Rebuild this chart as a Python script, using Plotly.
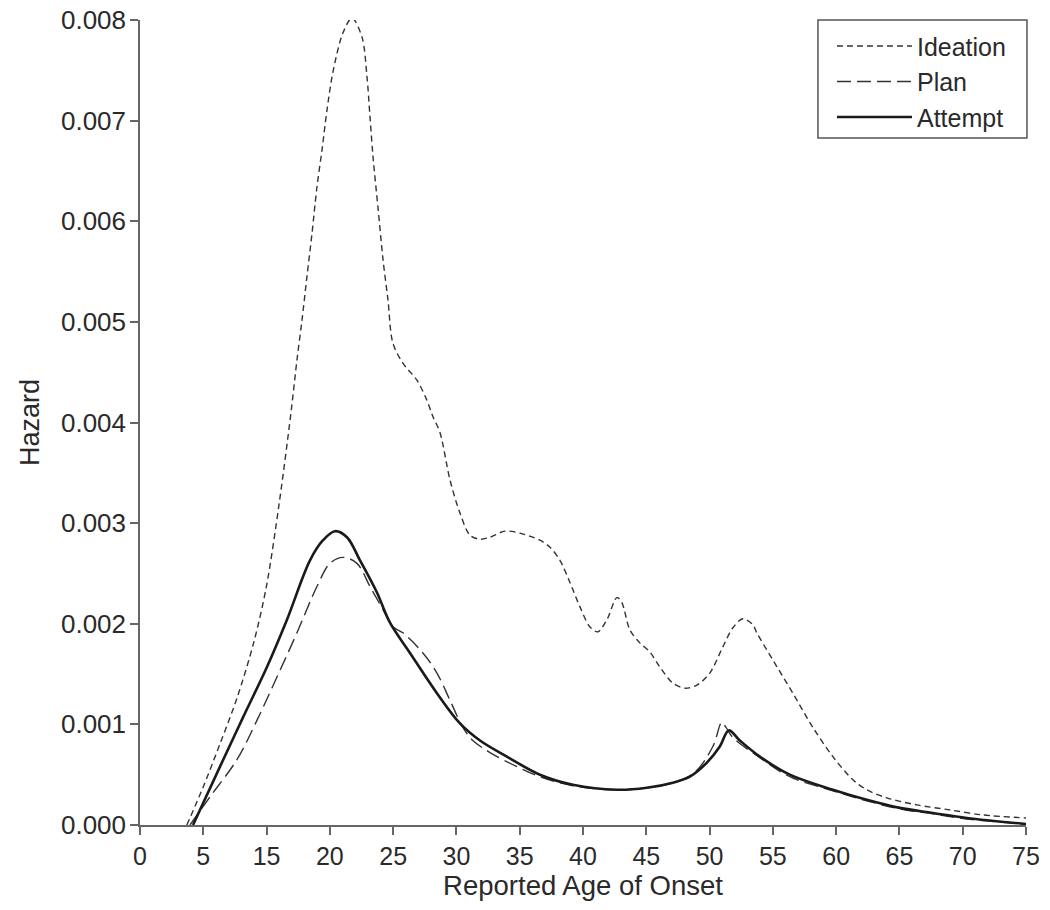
import plotly.graph_objects as go

# Reported age of onset (years) and hazard values (x 0.001)
ideation_age = [8.7, 10.0, 11.3, 12.66, 14.0, 15.0, 16.0, 16.93, 17.4, 17.8, 18.19, 18.59, 18.98,
                19.38, 19.78, 20.24, 21.03, 21.75, 22.54, 22.93, 23.17, 23.41, 23.8, 24.2,
                24.59, 24.98, 25.77, 26.88, 27.67, 28.14, 28.7, 29.49, 30.28, 31.07, 31.86,
                32.65, 33.83, 35.02, 36.6, 37.39, 38.18, 38.97, 39.75, 40.54, 41.17, 41.89,
                42.68, 43.07, 43.7, 44.49, 45.28, 46.07, 47.1, 48.05, 49.0, 50.02, 51.05,
                51.84, 52.63, 53.42, 53.73, 55.0, 56.58, 58.16, 59.74, 61.32, 62.42, 64.0,
                66.37, 68.98, 71.58, 75.0]
ideation_haz = [0.0, 0.38, 0.8, 1.26, 1.82, 2.38, 3.2, 4.1, 4.62, 5.02, 5.45, 5.88, 6.34,
                6.71, 7.11, 7.48, 7.87, 8.02, 7.83, 7.44, 7.04, 6.64, 6.14, 5.62,
                5.22, 4.79, 4.59, 4.42, 4.22, 4.06, 3.9, 3.43, 3.1, 2.88, 2.84,
                2.86, 2.92, 2.9, 2.83, 2.76, 2.63, 2.41, 2.17, 1.97, 1.92, 2.04,
                2.26, 2.21, 1.94, 1.81, 1.72, 1.57, 1.41, 1.36, 1.39, 1.51, 1.77,
                1.96, 2.05, 1.99, 1.91, 1.64, 1.31, 0.97, 0.68, 0.45, 0.35, 0.27,
                0.2, 0.15, 0.1, 0.07]

plan_age = [8.95, 10.53, 12.66, 14.24, 15.82, 17.4, 18.98, 20.01, 21.03, 22.14, 23.17, 24.2,
            24.98, 25.77, 27.35, 28.46, 29.49, 30.51, 31.3, 32.65, 34.78, 36.6, 39.2,
            42.68, 45.05, 47.1, 48.8, 50.26, 50.97, 51.3, 51.84, 53.97, 56.34, 59.74,
            62.42, 65.03, 67.64, 70.32, 75.0]
plan_haz = [0.0, 0.28, 0.65, 1.04, 1.47, 1.91, 2.37, 2.6, 2.66, 2.6, 2.37, 2.14,
            1.97, 1.91, 1.71, 1.51, 1.24, 0.97, 0.84, 0.72, 0.58, 0.48, 0.39,
            0.35, 0.37, 0.42, 0.52, 0.78, 1.02, 0.97, 0.87, 0.67, 0.48, 0.34,
            0.24, 0.16, 0.11, 0.06, 0.01]

attempt_age = [9.19, 11.32, 13.14, 15.03, 16.61, 18.43, 19.46, 20.4, 21.35, 22.38, 23.72,
               24.75, 26.33, 28.46, 30.28, 31.86, 33.99, 36.6, 39.2, 42.68, 45.05, 47.1,
               48.44, 49.79, 50.81, 51.52, 52.39, 53.97, 56.34, 59.74, 62.42, 65.03,
               67.64, 70.32, 75.0]
attempt_haz = [0.0, 0.58, 1.07, 1.57, 2.04, 2.63, 2.83, 2.92, 2.86, 2.63, 2.31,
               2.01, 1.71, 1.31, 1.01, 0.84, 0.68, 0.5, 0.4, 0.35, 0.37, 0.42,
               0.48, 0.62, 0.78, 0.94, 0.84, 0.68, 0.5, 0.35, 0.25, 0.17,
               0.12, 0.07, 0.01]

# Tick positions and their printed labels (the reference skips "10")
x_tickvals = [5, 10, 15, 20, 25, 30, 35, 40, 45, 50, 55, 60, 65, 70, 75]
x_ticktext = ["0", "5", "15", "20", "25", "30", "35", "40", "45", "50", "55", "60", "65", "70", "75"]
y_tickvals = [0, 0.001, 0.002, 0.003, 0.004, 0.005, 0.006, 0.007, 0.008]
y_ticktext = ["0.000", "0.001", "0.002", "0.003", "0.004", "0.005", "0.006", "0.007", "0.008"]

scale = 0.001
FONT = "Liberation Sans, Arial, sans-serif"
TXT = "#2a2a2a"

fig = go.Figure()
fig.add_trace(go.Scatter(x=ideation_age, y=[v * scale for v in ideation_haz], name="Ideation",
                         mode="lines", line=dict(color="#333333", width=1.4, dash="6px,4px",
                                                 shape="spline", smoothing=0.9)))
fig.add_trace(go.Scatter(x=plan_age, y=[v * scale for v in plan_haz], name="Plan",
                         mode="lines", line=dict(color="#333333", width=1.4, dash="14px,6px",
                                                 shape="spline", smoothing=1.0)))
fig.add_trace(go.Scatter(x=attempt_age, y=[v * scale for v in attempt_haz], name="Attempt",
                         mode="lines", line=dict(color="#1a1a1a", width=2.6,
                                                 shape="spline", smoothing=1.0)))

axis_common = dict(showgrid=False, zeroline=False, showline=True, linecolor="#666666",
                   linewidth=1.5, ticks="outside", ticklen=8, tickcolor="#666666",
                   tickwidth=1.5, automargin=False, ticklabeloverflow="allow")

fig.update_xaxes(range=[5, 75], tickvals=x_tickvals, ticktext=x_ticktext,
                 tickfont=dict(family=FONT, size=25, color=TXT),
                 title=dict(text="Reported Age of Onset", font=dict(family=FONT, size=27.5, color=TXT),
                            standoff=5), **axis_common)
fig.update_yaxes(range=[0, 0.008], tickvals=y_tickvals, ticktext=y_ticktext, ticklabelstandoff=-1,
                 tickfont=dict(family=FONT, size=26, color=TXT),
                 title=dict(text="Hazard", font=dict(family=FONT, size=27, color=TXT),
                            standoff=14), **axis_common)

# legend frame
fig.add_shape(type="rect", xref="paper", yref="paper", x0=0.7652, x1=1.0011, y0=0.8534, y1=1.0,
              line=dict(color="#555555", width=1.5), fillcolor="rgba(0,0,0,0)", layer="above")

fig.update_layout(
    width=1050, height=910,
    margin=dict(l=140, r=24, t=20, b=85),
    plot_bgcolor="white", paper_bgcolor="white",
    font=dict(family=FONT, color=TXT),
    legend=dict(x=0.781, y=0.996, xanchor="left", yanchor="top", borderwidth=0,
                bgcolor="rgba(0,0,0,0)", font=dict(family=FONT, size=25, color=TXT),
                itemwidth=75, tracegroupgap=0),
)

fig.write_html("out.html", config={"displayModeBar": False},
               post_script="document.body.style.margin='0';")
